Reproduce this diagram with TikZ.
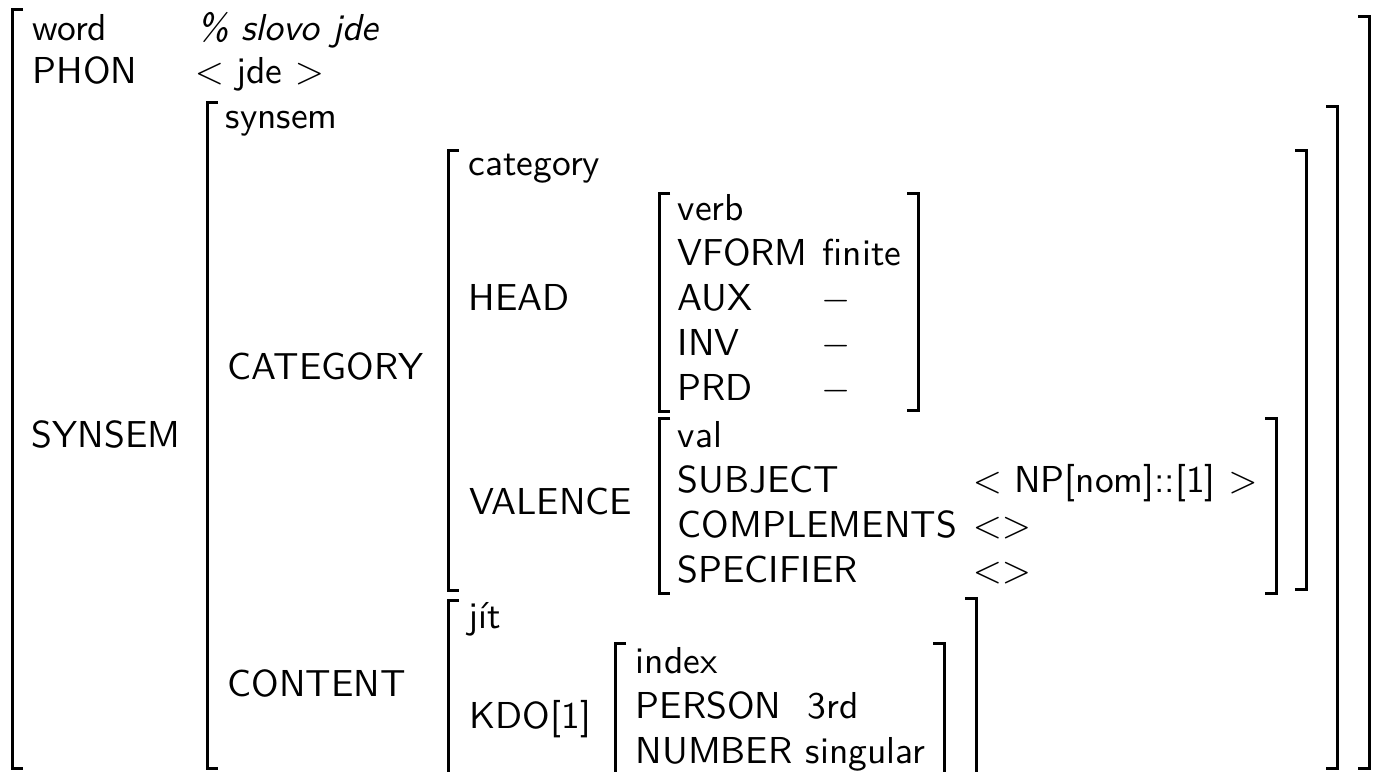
\documentclass[tikz,border=0pt]{standalone}

\begin{document}
\begin{tikzpicture}[x=0.26667pt, y=-0.26667pt,
    avm/.style={anchor=base west, inner sep=0pt, font=\sffamily},
    brk/.style={line width=0.8pt}]
  \useasboundingbox (0, 0) rectangle (1375, 771);
  \clip (0, 0) rectangle (1375, 771);

  \node[avm] (word) at (32, 40) {word};
  \node[avm, font=\sffamily\itshape] (comment) at (197, 40) {\% slovo jde};
  \node[avm] (phon) at (32, 83) {PHON};
  \node[avm] (phonval) at (194, 83) {$<$ jde $>$};
  \node[avm] (synsem) at (31, 447) {SYNSEM};

  \node[avm] (synsemtype) at (225, 128) {synsem};
  \node[avm] (cat) at (227, 379) {CATEGORY};
  \node[avm] (cont) at (227, 696) {CONTENT};

  \node[avm] (cattype) at (468, 175) {category};
  \node[avm] (head) at (468, 310) {HEAD};
  \node[avm] (valence) at (469, 514) {VALENCE};
  \node[avm] (conttype) at (468, 628) {jít};
  \node[avm] (kdo) at (469, 728) {KDO[1]};

  \node[avm] (verb) at (677, 220) {verb};
  \node[avm] (vform) at (677, 265) {VFORM};
  \node[avm] (aux) at (677, 310) {AUX};
  \node[avm] (inv) at (677, 355) {INV};
  \node[avm] (prd) at (677, 400) {PRD};
  \node[avm] (vformval) at (822, 265) {finite};
  \node[avm] (auxval) at (821, 310) {$-$};
  \node[avm] (invval) at (821, 355) {$-$};
  \node[avm] (prdval) at (821, 400) {$-$};

  \node[avm] (valtype) at (677, 447) {val};
  \node[avm] (subj) at (677, 492) {SUBJECT};
  \node[avm] (comps) at (677, 537) {COMPLEMENTS};
  \node[avm] (spr) at (677, 582) {SPECIFIER};
  \node[avm] (subjval) at (972, 492) {$<$ NP[nom]::[1] $>$};
  \node[avm] (compsval) at (972, 537) {$<>$};
  \node[avm] (sprval) at (972, 582) {$<>$};

  \node[avm] (indextype) at (635, 673) {index};
  \node[avm] (person) at (635, 718) {PERSON};
  \node[avm] (number) at (635, 763) {NUMBER};
  \node[avm] (personval) at (807, 718) {3rd};
  \node[avm] (numberval) at (805, 763) {singular};

  \draw[brk] (23, 9) -| (12, 768) -- ++(11, 0);
  \draw[brk] (1358, 16) -| (1369, 768) -- ++(-11, 0);
  \draw[brk] (218, 102) -| (207, 768) -- ++(11, 0);
  \draw[brk] (1326, 106) -| (1337, 768) -- ++(-11, 0);
  \draw[brk] (459, 150) -| (448, 590) -- ++(11, 0);
  \draw[brk] (1295, 150) -| (1306, 589) -- ++(-11, 0);
  \draw[brk] (670, 193) -| (659, 411) -- ++(11, 0);
  \draw[brk] (907, 193) -| (918, 410) -- ++(-11, 0);
  \draw[brk] (670, 418) -| (659, 593) -- ++(11, 0);
  \draw[brk] (1265, 418) -| (1276, 593) -- ++(-11, 0);
  \draw[brk] (459, 600) -| (448, 860) -- ++(11, 0);
  \draw[brk] (965, 598) -| (976, 860) -- ++(-11, 0);
  \draw[brk] (626, 643) -| (615, 860) -- ++(11, 0);
  \draw[brk] (933, 643) -| (944, 860) -- ++(-11, 0);
\end{tikzpicture}
\end{document}
